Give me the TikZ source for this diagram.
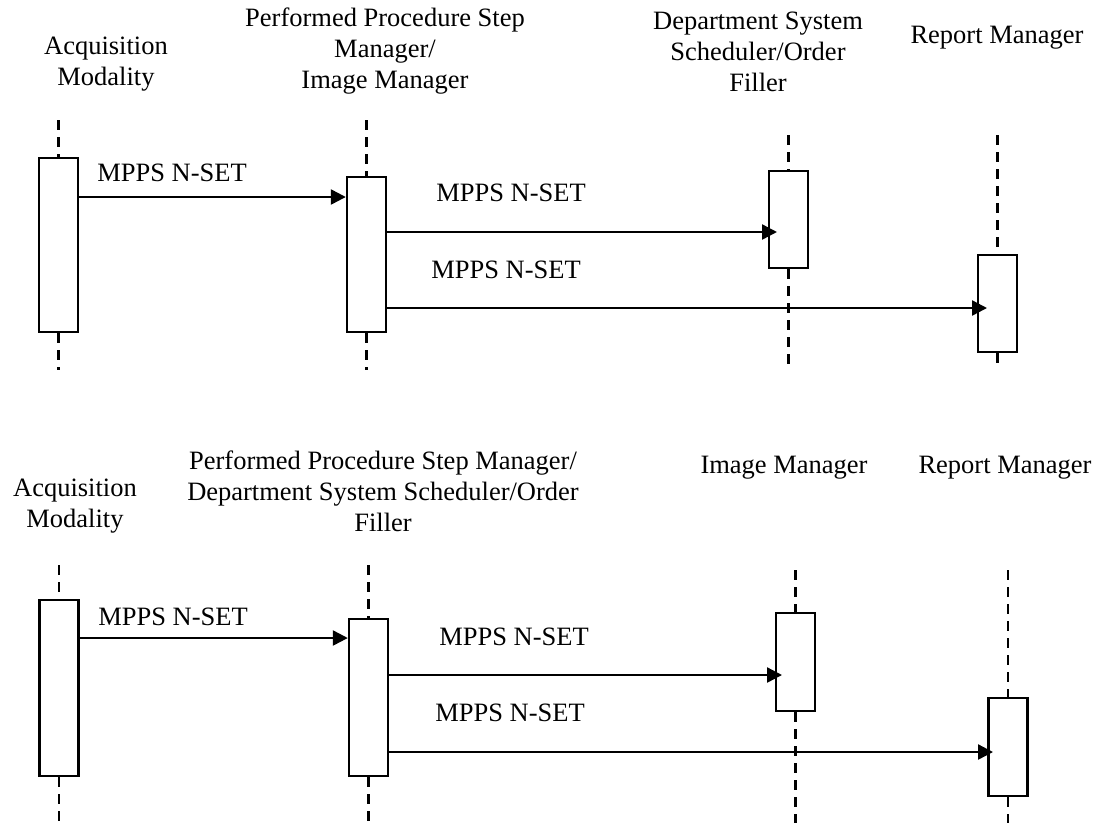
\documentclass[tikz,border=0pt]{standalone}
\usepackage{fontspec}
\setmainfont{Liberation Serif}
\usetikzlibrary{arrows.meta}
\begin{document}
\begin{tikzpicture}[x=1pt,y=-1pt,
 every node/.style={font=\fontsize{26.5}{31}\selectfont},
 lbl/.style={align=center, inner sep=0pt},
 act/.style={draw, line width=2.4pt, fill=white, minimum width=39pt, inner sep=0pt},
 life/.style={dash pattern=on 10pt off 7pt, line width=2.4pt},
 msg/.style={line width=2.4pt, -{Triangle[length=15pt,width=15pt]}}]
\useasboundingbox (0,0) rectangle (1094,823);

% ---------- top diagram ----------
\node[lbl] (h1a) at (106,64) {Acquisition\\Modality};
\node[lbl] (h1b) at (385,51) {Performed Procedure Step\\Manager/\\Image Manager};
\node[lbl] (h1c) at (758,51.5) {Department System\\Scheduler/Order\\Filler};
\node[lbl] (h1d) at (997,38) {Report Manager};

\node[act, minimum height=174pt] (am1) at (58.5,245) {};
\node[act, minimum height=155pt] (pps1) at (366.5,254.5) {};
\node[act, minimum height=97pt] (dss1) at (788.5,219.5) {};
\node[act, minimum height=97pt] (rm1) at (997.5,303.5) {};

\coordinate (am1t) at (58.5,120);  \coordinate (am1b) at (58.5,370);
\coordinate (pps1t) at (366.5,120); \coordinate (pps1b) at (366.5,370);
\coordinate (dss1t) at (788.5,135); \coordinate (dss1b) at (788.5,370);
\coordinate (rm1t) at (997.5,135);  \coordinate (rm1b) at (997.5,370);
\foreach \n in {am1,pps1,dss1,rm1}{
  \draw[life] (\n t) -- (\n.north);
  \draw[life] (\n.south) -- (\n b);
}

\coordinate (t11) at (347,197);
\coordinate (t12) at (777,232);
\coordinate (t13) at (987,308);
\draw[msg] (am1.east |- t11) -- (pps1.west |- t11);
\draw[msg] (pps1.east |- t12) -- (t12);
\draw[msg] (pps1.east |- t13) -- (t13);
\node[lbl] (l11) at (172,173) {MPPS N-SET};
\node[lbl] (l12) at (511,193) {MPPS N-SET};
\node[lbl] (l13) at (506,270) {MPPS N-SET};

% ---------- bottom diagram ----------
\node[lbl] (h2a) at (75,506) {Acquisition\\Modality};
\node[lbl] (h2b) at (383,491.5) {Performed Procedure Step Manager/\\Department System Scheduler/Order\\Filler};
\node[lbl] (h2c) at (784,468) {Image Manager};
\node[lbl] (h2d) at (1005,468) {Report Manager};

\node[act, minimum height=176pt] (am2) at (59,688) {};
\node[act, minimum height=157pt] (pps2) at (368.5,697.5) {};
\node[act, minimum height=98pt] (im2) at (795.5,662) {};
\node[act, minimum height=98pt] (rm2) at (1008,747) {};

\coordinate (am2t) at (59,565);    \coordinate (am2b) at (59,823);
\coordinate (pps2t) at (368.5,565); \coordinate (pps2b) at (368.5,823);
\coordinate (im2t) at (795.5,570);  \coordinate (im2b) at (795.5,823);
\coordinate (rm2t) at (1008,570);   \coordinate (rm2b) at (1008,823);
\foreach \n in {am2,pps2,im2,rm2}{
  \draw[life] (\n t) -- (\n.north);
  \draw[life] (\n.south) -- (\n b);
}

\coordinate (t21) at (349,638);
\coordinate (t22) at (782,675);
\coordinate (t23) at (993,752);
\draw[msg] (am2.east |- t21) -- (pps2.west |- t21);
\draw[msg] (pps2.east |- t22) -- (t22);
\draw[msg] (pps2.east |- t23) -- (t23);
\node[lbl] (l21) at (173,617) {MPPS N-SET};
\node[lbl] (l22) at (514,637) {MPPS N-SET};
\node[lbl] (l23) at (510,713) {MPPS N-SET};
\end{tikzpicture}
\end{document}
